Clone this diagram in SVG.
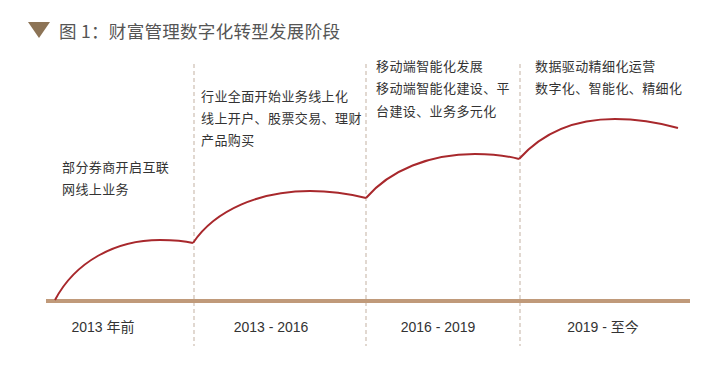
<svg xmlns="http://www.w3.org/2000/svg" width="720" height="381" viewBox="0 0 720 381">
<style>
.t{font-family:"Noto Sans CJK SC","Liberation Sans",sans-serif;font-size:13px;fill:#333;letter-spacing:0.4px}
.y{font-family:"Liberation Sans","Noto Sans CJK SC",sans-serif;font-size:14px;fill:#333;text-anchor:middle}
.dash{stroke:#cdbfb2;stroke-width:1.2;stroke-dasharray:4 3;fill:none}
.curve{stroke:#a8282c;stroke-width:2;fill:none}
</style>
<rect width="720" height="381" fill="#fff"/>
<g id="title">
<polygon points="28,22 50,22 39,38" fill="#8c7355"/>
<text x="59" y="38" font-family="Noto Sans CJK SC, sans-serif" font-size="17.5" letter-spacing="0.3" fill="#555">图 1：财富管理数字化转型发展阶段</text>
</g>
<g id="connectors">
<line class="dash" x1="194" y1="64" x2="194" y2="346"/>
<line class="dash" x1="366" y1="64" x2="366" y2="346"/>
<line class="dash" x1="520" y1="64" x2="520" y2="346"/>
<line x1="46" y1="301" x2="690" y2="301" stroke="#c09a7a" stroke-width="4"/>
<path class="curve" d="M55,300 C75,262 115,240 160,240 C175,240 185,241 193,243"/>
<path class="curve" d="M193,243 C215,210 260,191 310,191 C335,191 350,194 366,198"/>
<path class="curve" d="M366,198 C390,170 430,154 475,154 C495,154 508,156 519,159"/>
<path class="curve" d="M519,159 C545,130 580,119 615,119 C640,119 660,123 678,128"/>
</g>
<g id="stage1">
<text class="t" x="62" y="172">部分券商开启互联</text>
<text class="t" x="62" y="194">网线上业务</text>
<text class="y" x="103" y="332">2013 年前</text>
</g>
<g id="stage2">
<text class="t" x="201" y="101">行业全面开始业务线上化</text>
<text class="t" x="201" y="123">线上开户、股票交易、理财</text>
<text class="t" x="201" y="145">产品购买</text>
<text class="y" x="271" y="332">2013 - 2016</text>
</g>
<g id="stage3">
<text class="t" x="376" y="71">移动端智能化发展</text>
<text class="t" x="376" y="93">移动端智能化建设、平</text>
<text class="t" x="376" y="116">台建设、业务多元化</text>
<text class="y" x="438" y="332">2016 - 2019</text>
</g>
<g id="stage4">
<text class="t" x="535" y="71">数据驱动精细化运营</text>
<text class="t" x="535" y="93">数字化、智能化、精细化</text>
<text class="y" x="603" y="332">2019 - 至今</text>
</g>
</svg>
